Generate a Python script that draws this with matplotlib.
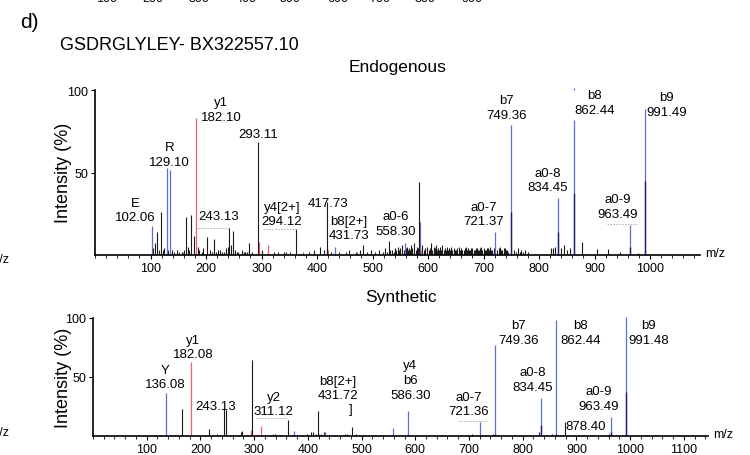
import matplotlib.pyplot as plt
from matplotlib.ticker import MultipleLocator

plt.rcParams['font.family'] = ['Liberation Sans', 'DejaVu Sans']

BLUE = '#5f6fd0'
NAVY = '#1b2266'
RED = '#e8616b'
DARK = '#1a1a1a'

# ---- Endogenous spectrum (top) ----
endo_blue_mz = [102.06, 129.10, 136.0, 277, 375, 418, 431.73, 472, 558.30, 586.3,
                721.37, 749.36, 834.45, 862.44, 963.49, 991.49]
endo_blue_int = [17.5, 53, 51.5, 3, 2, 4, 5, 2, 7, 20,
                 14, 79, 34.5, 82, 18, 88.5]
endo_navy_mz = [749.36, 834.45, 862.44, 963.49, 991.49]
endo_navy_int = [26, 14, 37.5, 5, 45]
endo_red_mz = [159, 182.10, 296, 312, 420, 587]
endo_red_int = [2, 83, 8, 6, 3, 3]
endo_peak_mz = [112, 119.7, 164.6, 173.6, 177.8, 202, 215, 242, 249, 278,
                293.11, 362, 417.73, 529, 584.5, 877]
endo_peak_int = [14, 26, 23, 24, 11.5, 11, 10, 16.4, 14.5, 7,
                 68.5, 16, 32, 8.5, 44, 8]

endo_noise_mz = [105, 108, 115, 122, 125, 132, 138, 142, 147, 152, 156, 160, 168, 170,
                 185, 188, 193, 195, 207, 210, 218, 222, 226, 229, 232, 236, 240, 245,
                 252, 256, 258, 265, 268, 270, 273, 283, 300, 322, 330, 340, 345, 352,
                 385, 395, 405, 412, 425, 440, 452, 458, 470, 478, 482, 490, 498, 505,
                 512, 518, 522, 526, 532, 535, 538, 540, 543, 545, 548, 550, 553, 556,
                 560, 562, 564, 566, 568, 570, 572, 575, 578, 580, 582, 590, 592, 595,
                 598, 601, 603, 605, 608, 610, 612, 614, 616, 618, 620, 622, 624, 626,
                 628, 630, 632, 634, 636, 638, 640, 642, 644, 646, 648, 650, 652, 655,
                 658, 660, 662, 664, 666, 668, 670, 672, 674, 676, 678, 680, 682, 684,
                 686, 688, 690, 692, 694, 696, 698, 700, 702, 704, 706, 708, 710, 712,
                 714, 716, 718, 725, 728, 730, 732, 734, 736, 738, 740, 742, 744, 755,
                 758, 762, 765, 768, 772, 775, 780, 822, 826, 829, 840, 845, 850, 855,
                 905, 924, 945, 978]
endo_noise_int = [4, 7, 3, 3, 4, 3, 3, 2, 3, 2, 2, 3, 5, 3,
                  5, 3, 2, 4, 3, 2, 2, 3, 3, 2, 2, 4, 5, 6,
                  3, 2, 2, 3, 2, 2, 2, 2, 3, 2, 2, 2, 2, 2,
                  2, 3, 5, 3, 2, 2, 2, 3, 2, 3, 6, 2, 3, 2,
                  3, 2, 4, 2, 3, 3, 2, 4, 3, 5, 3, 4, 6, 3,
                  4, 5, 3, 4, 3, 6, 4, 7, 3, 5, 4, 6, 3, 4,
                  5, 3, 4, 7, 3, 5, 4, 6, 3, 4, 3, 5, 3, 6,
                  3, 4, 3, 5, 3, 4, 3, 5, 3, 4, 3, 3, 4, 5,
                  3, 4, 3, 3, 4, 5, 3, 4, 3, 3, 4, 4, 3, 3,
                  4, 4, 3, 3, 4, 5, 3, 4, 3, 3, 4, 4, 3, 5,
                  3, 3, 4, 3, 4, 5, 3, 3, 4, 4, 3, 3, 2, 3,
                  2, 4, 2, 3, 2, 3, 2, 4, 4, 5, 4, 6, 3, 4,
                  3.5, 3.5, 2, 1.5]

endo_labels = [(73, 27.3, 'E\n102.06'), (134, 61, 'R\n129.10'), (227.5, 88, 'y1\n182.10'),
               (294, 73.3, '293.11'), (222, 23.6, '243.13'), (337, 24.8, 'y4[2+]\n294.12'),
               (419.5, 31.5, '417.73'), (457, 16.4, 'b8[2+]\n431.73'),
               (541.6, 19, 'a0-6\n558.30'), (700, 24.8, 'a0-7\n721.37'),
               (741, 89.4, 'b7\n749.36'), (816, 45.5, 'a0-8\n834.45'),
               (900.7, 92.4, 'b8\n862.44'), (942, 29.4, 'a0-9\n963.49'),
               (1030, 91.2, 'b9\n991.49')]
endo_leaders = [(186, 242, 16.4), (303, 362, 15.8), (922, 976, 18.8)]

# ---- Synthetic spectrum (bottom) ----
syn_blue_mz = [136.08, 145, 335, 374, 432, 473, 558, 586.30, 721.36, 749.36,
               834.45, 862.44, 963.49, 991.48]
syn_blue_int = [36.5, 1, 2, 4, 3, 2, 7, 21, 12, 77,
                32, 98, 16, 100.5]
syn_navy_mz = [834.45, 862.44, 963.49, 991.48]
syn_navy_int = [9, 2, 3, 37]
syn_red_mz = [182.08, 294, 313, 420, 700, 911, 1028]
syn_red_int = [62.5, 5, 8.5, 2, 1, 1, 1]
syn_peak_mz = [166, 216, 244, 248, 277, 296, 363, 419, 482, 878.4]
syn_peak_int = [23, 6, 23, 22, 4.5, 64.5, 13.5, 21, 7.5, 12]
syn_noise_mz = [118, 125, 150, 200, 230, 260, 275, 285, 320, 338, 350, 380, 398, 405,
                410, 415, 425, 430, 440, 470, 490, 520, 540, 600, 650, 705, 745, 830,
                855, 870, 905, 960, 1000]
syn_noise_int = [1, 1, 1, 1, 1.5, 1, 3, 1, 1, 1.5, 1, 1, 1.5, 3,
                 3, 2, 2, 3, 1, 2, 2, 1, 1, 1, 1, 1.5, 2, 3,
                 2, 1, 1, 2, 1]

syn_labels = [(134, 50, 'Y\n136.08'), (187, 75.4, 'y1\n182.08'), (229, 25.4, '243.13'),
              (336, 27.1, 'y2\n311.12'), (456, 40.7, 'b8[2+]\n431.72'), (480, 22.9, ']'),
              (591, 47.5, 'y4\nb6\n586.30'), (699, 27.1, 'a0-7\n721.36'),
              (792, 88, 'b7\n749.36'), (818, 47.9, 'a0-8\n834.45'),
              (907.6, 87.7, 'b8\n862.44'), (1034, 88, 'b9\n991.48'),
              (941, 31.8, 'a0-9\n963.49'), (917, 8.5, '878.40')]
syn_leaders = [(303, 359, 15), (679, 735, 12.7)]

x_ticks_top = list(range(100, 1001, 100))
x_ticks_bottom = list(range(100, 1101, 100))


def draw_spectrum(ax, noise, peaks, blue, navy, red, labels, leaders, xmax, ticks):
    ax.vlines(noise[0], 0, noise[1], color=DARK, lw=0.8)
    ax.vlines(blue[0], 0, blue[1], color=BLUE, lw=0.9, clip_on=False)
    ax.vlines(navy[0], 0, navy[1], color=NAVY, lw=1.0)
    ax.vlines(red[0], 0, red[1], color=RED, lw=0.9)
    ax.vlines(peaks[0], 0, peaks[1], color=DARK, lw=0.8)
    for x0, x1, y in leaders:
        ax.plot([x0, x1], [y, y], color='#aaaaaa', lw=0.6, ls=(0, (2, 1.5)))
    for x, y, s in labels:
        ax.text(x, y, s, ha='center', va='center', fontsize=9.5,
                linespacing=1.3, clip_on=False)
    ax.set_xlim(0, xmax)
    ax.set_ylim(0, 100)
    ax.set_xticks(ticks)
    ax.xaxis.set_minor_locator(MultipleLocator(20))
    ax.set_yticks([50, 100])
    for side in ['top', 'right']:
        ax.spines[side].set_visible(False)
    for side in ['left', 'bottom']:
        ax.spines[side].set_linewidth(1.2)
    ax.tick_params(axis='both', which='major', length=3, width=0.8, pad=2, labelsize=9)
    ax.tick_params(axis='x', which='minor', length=1.8, width=0.6)
    ax.annotate('m/z', xy=(1, 0), xycoords='axes fraction', xytext=(4, 1.5),
                textcoords='offset points', ha='left', va='center', fontsize=9)


fig = plt.figure(figsize=(7.5, 4.56), dpi=100)

ax1 = fig.add_axes([95 / 750, 200 / 456, 605 / 750, 165 / 456])
draw_spectrum(ax1, (endo_noise_mz, endo_noise_int), (endo_peak_mz, endo_peak_int),
              (endo_blue_mz, endo_blue_int), (endo_navy_mz, endo_navy_int),
              (endo_red_mz, endo_red_int), endo_labels, endo_leaders, 1090, x_ticks_top)
ax1.vlines([862.44], 100, 101.5, color=BLUE, lw=0.9, clip_on=False)
ax1.set_title('Endogenous', fontsize=12.5, pad=14)

ax2 = fig.add_axes([93 / 750, 19 / 456, 615 / 750, 118 / 456])
draw_spectrum(ax2, (syn_noise_mz, syn_noise_int), (syn_peak_mz, syn_peak_int),
              (syn_blue_mz, syn_blue_int), (syn_navy_mz, syn_navy_int),
              (syn_red_mz, syn_red_int), syn_labels, syn_leaders, 1145, x_ticks_bottom)
ax2.set_title('Synthetic', fontsize=12.5, pad=12)

fig.text(64 / 750, 0.62, 'Intensity (%)', rotation=90, ha='center', va='center', fontsize=13)
fig.text(64 / 750, 0.171, 'Intensity (%)', rotation=90, ha='center', va='center', fontsize=13)
fig.text(20 / 750, 1 - 22 / 456, 'd)', ha='left', va='center', fontsize=15)
fig.text(60 / 750, 1 - 46 / 456, 'GSDRGLYLEY- BX322557.10', ha='left', va='center', fontsize=13)

# cut-off remnants of the neighbouring panels
prev_ticks = ['100', '200', '300', '400', '500', '600', '700', '800', '900']
prev_x = [107, 153, 199, 246, 290, 338, 380, 425, 472]
for px, s in zip(prev_x, prev_ticks):
    fig.text(px / 750, 1 - 2.5 / 456, s, ha='center', va='baseline', fontsize=9)
fig.text(9 / 750, 1 - 260 / 456, 'm/z', ha='right', va='center', fontsize=9)
fig.text(9 / 750, 1 - 433 / 456, 'm/z', ha='right', va='center', fontsize=9)

fig.savefig('out.png', dpi=100)
